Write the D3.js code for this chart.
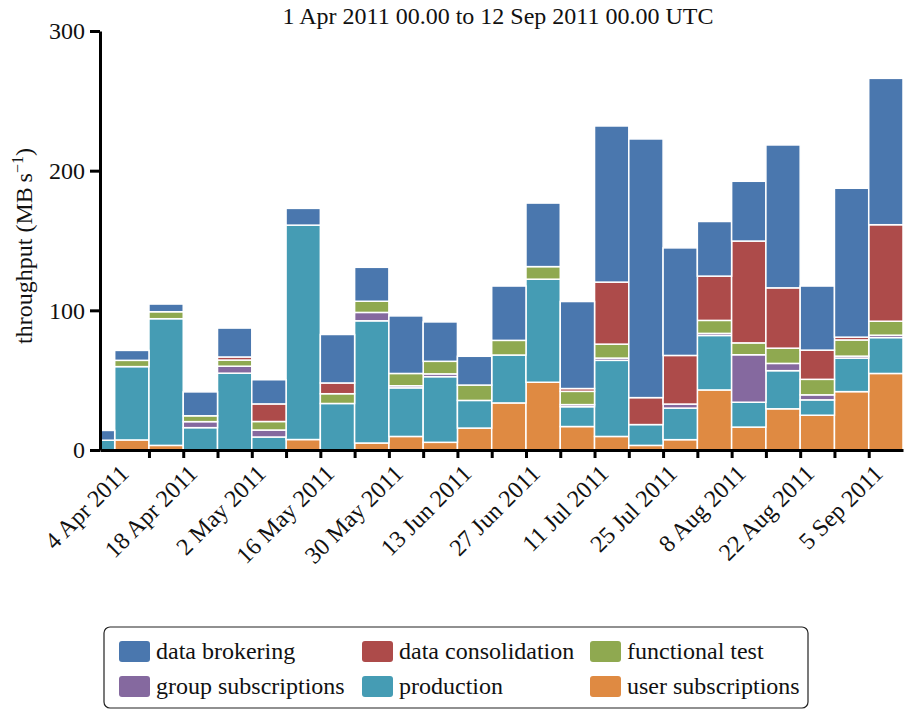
<!DOCTYPE html>
<html>
<head>
<meta charset="utf-8">
<script src="https://cdn.jsdelivr.net/npm/d3@7"></script>
<style>
  body { margin: 0; background: #fff; }
  svg { font-family: "Liberation Serif", "Times New Roman", serif; }
</style>
</head>
<body>
<svg id="chart" width="904" height="711"></svg>
<script>
// week start dates (first one is a partial period), last bar ends at periodEnd
const weeks = ["2011-04-01","2011-04-04","2011-04-11","2011-04-18","2011-04-25","2011-05-02",
  "2011-05-09","2011-05-16","2011-05-23","2011-05-30","2011-06-06","2011-06-13","2011-06-20",
  "2011-06-27","2011-07-04","2011-07-11","2011-07-18","2011-07-25","2011-08-01","2011-08-08",
  "2011-08-15","2011-08-22","2011-08-29","2011-09-05"];
const periodEnd = "2011-09-12";

// throughput in MB/s, stacked bottom to top
const userSubs      = [0, 7.2, 3.3, 0, 0, 0, 7.5, 0, 5, 9.7, 5.5, 15.7, 33.7, 48.5, 16.8, 9.7, 3.3, 7.4, 43, 16.4, 29.5, 24.9, 41.8, 54.8];
const production    = [7, 52.5, 90.7, 16, 55, 9.3, 153.5, 33.3, 87.5, 34.8, 47, 19.8, 34.3, 73.8, 14.2, 54.5, 14.9, 22.6, 39, 17.8, 27.3, 11, 24, 25.7];
const groupSubs     = [0, 0, 0, 4.3, 5, 5, 0, 0, 6, 1.5, 2, 0, 0, 0, 1.5, 1.6, 0, 2.9, 1.5, 34, 5.2, 3.6, 1.4, 1.7];
const functional    = [0, 4.5, 5, 4.2, 4.4, 6.1, 0, 7, 8, 8.8, 9, 11, 10.5, 9, 9.5, 10, 0, 0, 9.3, 8.5, 10.9, 11.1, 11.6, 10];
const consolidation = [0, 0, 0, 0, 2.2, 12.6, 0, 7.7, 0, 0, 0, 0, 0, 0, 2, 44.4, 19.3, 34.8, 31.7, 72.9, 43.2, 20.9, 2, 69.1];
const brokering     = [7, 7.1, 5.5, 17.1, 20.7, 17.3, 12, 34.7, 24.3, 41.2, 28.2, 20.6, 38.9, 45.5, 62.3, 111.8, 185.2, 77, 39.1, 42.8, 102.3, 45.9, 106.6, 104.8];

const seriesKeys = ["user subscriptions", "production", "group subscriptions", "functional test", "data consolidation", "data brokering"];
const seriesValues = [userSubs, production, groupSubs, functional, consolidation, brokering];
const colors = ["#df8a42", "#459cb4", "#85699f", "#8fa950", "#ad4b4a", "#4a77ae"];
const legendOrder = ["data brokering", "data consolidation", "functional test", "group subscriptions", "production", "user subscriptions"];
const yTicks = [0, 100, 200, 300];

const parse = d3.utcParse("%Y-%m-%d");
const svg = d3.select("#chart");

const x = d3.scaleUtc().domain([parse(weeks[0]), parse(periodEnd)]).range([100, 903]);
const y = d3.scaleLinear().domain([0, 300]).range([450, 31]);
const color = d3.scaleOrdinal().domain(seriesKeys).range(colors);

// build rows for the stack
const rows = weeks.map((w, i) => {
  const row = { start: parse(w), end: i < weeks.length - 1 ? parse(weeks[i + 1]) : parse(periodEnd) };
  seriesKeys.forEach((k, j) => row[k] = seriesValues[j][i]);
  return row;
});
const stacked = d3.stack().keys(seriesKeys)(rows);

svg.append("g")
  .selectAll("g")
  .data(stacked)
  .join("g")
  .attr("fill", d => color(d.key))
  .selectAll("rect")
  .data(d => d.filter(s => s[1] - s[0] > 0))
  .join("rect")
  .attr("x", d => x(d.data.start))
  .attr("width", d => x(d.data.end) - x(d.data.start))
  .attr("y", d => y(d[1]))
  .attr("height", d => y(d[0]) - y(d[1]))
  .attr("stroke", "#fff")
  .attr("stroke-width", 1.5);

// x axis: weekly ticks, labels every two weeks
const mondays = d3.utcMonday.range(parse("2011-04-04"), parse("2011-09-06"));
const fmt = d3.utcFormat("%-d %b %Y");
const xAxis = svg.append("g")
  .attr("transform", "translate(0,450)")
  .call(d3.axisBottom(x).tickValues(mondays).tickSize(8).tickSizeOuter(0)
    .tickFormat((d, i) => i % 2 === 0 ? fmt(d) : ""))
  .attr("font-family", null)
  .attr("font-size", 24);
xAxis.select(".domain").attr("stroke-width", 3).attr("stroke", "#000");
xAxis.selectAll(".tick line").attr("stroke-width", 3).attr("stroke", "#000")
  .filter((d, i) => i === 0).remove();
xAxis.selectAll(".tick text")
  .attr("x", 0).attr("y", 0).attr("dy", 0)
  .attr("text-anchor", "end")
  .attr("transform", "translate(15,25) rotate(-45)")
  .attr("fill", "#111");

// y axis
const yAxis = svg.append("g")
  .attr("transform", "translate(100,0)")
  .call(d3.axisLeft(y).tickValues(yTicks).tickSize(10).tickSizeOuter(0).tickPadding(5))
  .attr("font-family", null)
  .attr("font-size", 24);
yAxis.select(".domain").attr("stroke-width", 3).attr("stroke", "#000");
yAxis.selectAll(".tick line").attr("stroke-width", 3).attr("stroke", "#000");
yAxis.selectAll(".tick text").attr("fill", "#111");

// y label
const yl = svg.append("text")
  .attr("transform", "translate(32,246) rotate(-90)")
  .attr("text-anchor", "middle")
  .attr("font-size", 24)
  .attr("fill", "#111");
yl.append("tspan").text("throughput (MB\u2009s");
yl.append("tspan").attr("font-size", 16).attr("dy", -9).text("\u22121");
yl.append("tspan").attr("dy", 9).text(")");

// title
svg.append("text")
  .attr("x", 498).attr("y", 24)
  .attr("text-anchor", "middle")
  .attr("font-size", 24)
  .attr("fill", "#111")
  .text("1 Apr 2011 00.00 to 12 Sep 2011 00.00 UTC");

// legend
const legend = svg.append("g");
legend.append("rect")
  .attr("x", 104).attr("y", 627).attr("width", 704).attr("height", 81)
  .attr("rx", 6).attr("fill", "#fff").attr("stroke", "#222").attr("stroke-width", 1.2);
const colX = [119, 362, 590];
const rowY = [641, 676];
const item = legend.selectAll("g.item")
  .data(legendOrder)
  .join("g")
  .attr("class", "item")
  .attr("transform", (d, i) => `translate(${colX[i % 3]},${rowY[Math.floor(i / 3)]})`);
item.append("rect")
  .attr("width", 31).attr("height", 21).attr("rx", 3)
  .attr("fill", d => color(d));
item.append("text")
  .attr("x", 37).attr("y", 18)
  .attr("font-size", 24)
  .attr("fill", "#111")
  .text(d => d);
</script>
</body>
</html>
